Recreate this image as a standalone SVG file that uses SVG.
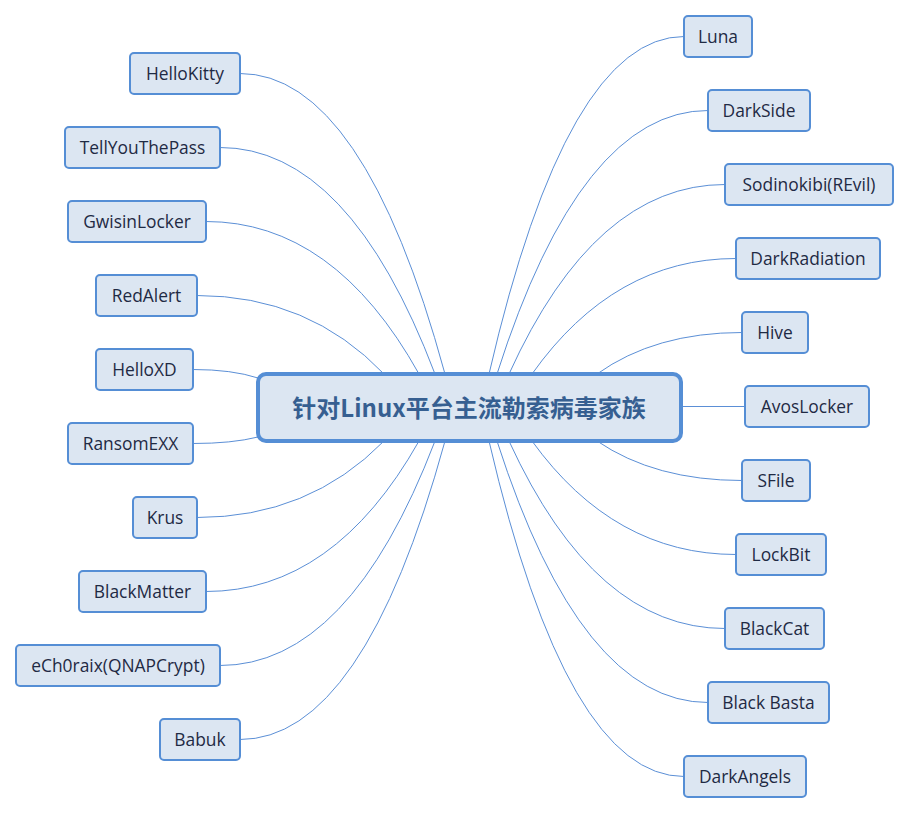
<svg xmlns="http://www.w3.org/2000/svg" width="910" height="814" viewBox="0 0 910 814">
<style>
.n rect{fill:#dce6f2;stroke:#558ed5;stroke-width:2}
.n text{font-family:"Open Sans","Noto Sans",sans-serif;font-size:17.4px;fill:#1f2a44;text-anchor:middle}
#links path{fill:none;stroke:#5b8fd6;stroke-width:1}
#root rect{fill:#dce6f2;stroke:#558ed5;stroke-width:4}
#root text{font-family:"Noto Sans CJK SC","Noto Sans",sans-serif;font-size:24px;font-weight:bold;fill:#365f91;text-anchor:middle}
</style>
<rect width="910" height="814" fill="#ffffff"/>
<g id="links">
<path d="M240,73.5 Q363,73.5 445,374"/>
<path d="M220,147.5 Q349,147.5 435,374"/>
<path d="M206,221.5 Q334,221.5 419,374"/>
<path d="M197,295.5 Q309,295.5 384,374"/>
<path d="M193,369.5 Q232,369.5 258,378"/>
<path d="M193,443.5 Q232,443.5 258,437"/>
<path d="M197,517.5 Q309,517.5 384,441"/>
<path d="M206,591.5 Q334,591.5 419,441"/>
<path d="M220,665.5 Q349,665.5 435,441"/>
<path d="M240,739.5 Q363,739.5 445,441"/>
<path d="M684,36.5 Q567,36.5 489,374"/>
<path d="M708,110.5 Q581,110.5 497,374"/>
<path d="M725,184.5 Q595,184.5 509,374"/>
<path d="M736,258.5 Q614,258.5 532,374"/>
<path d="M742,332.5 Q655,332.5 597,374"/>
<path d="M745,406.5 L681,406.5"/>
<path d="M742,480.5 Q655,480.5 597,441"/>
<path d="M736,554.5 Q614,554.5 532,441"/>
<path d="M725,628.5 Q595,628.5 509,441"/>
<path d="M708,702.5 Q581,702.5 497,441"/>
<path d="M684,776.5 Q567,776.5 489,441"/>
</g>
<g id="root">
<rect x="258" y="374" width="423" height="67" rx="8"/>
<text x="469" y="417">针对Linux平台主流勒索病毒家族</text>
</g>
<g id="n-hellokitty" class="n"><rect x="130" y="53" width="110" height="41" rx="4"/><text x="185" y="80">HelloKitty</text></g>
<g id="n-tellyouthepass" class="n"><rect x="65" y="127" width="155" height="41" rx="4"/><text x="142.5" y="154">TellYouThePass</text></g>
<g id="n-gwisinlocker" class="n"><rect x="68" y="201" width="138" height="41" rx="4"/><text x="137" y="228">GwisinLocker</text></g>
<g id="n-redalert" class="n"><rect x="96" y="275" width="101" height="41" rx="4"/><text x="146.5" y="302">RedAlert</text></g>
<g id="n-helloxd" class="n"><rect x="96" y="349" width="97" height="41" rx="4"/><text x="144.5" y="376">HelloXD</text></g>
<g id="n-ransomexx" class="n"><rect x="68" y="423" width="125" height="41" rx="4"/><text x="130.5" y="450">RansomEXX</text></g>
<g id="n-krus" class="n"><rect x="133" y="497" width="64" height="41" rx="4"/><text x="165" y="524">Krus</text></g>
<g id="n-blackmatter" class="n"><rect x="79" y="571" width="127" height="41" rx="4"/><text x="142.5" y="598">BlackMatter</text></g>
<g id="n-ech0raix" class="n"><rect x="16" y="645" width="204" height="41" rx="4"/><text x="118" y="672">eCh0raix(QNAPCrypt)</text></g>
<g id="n-babuk" class="n"><rect x="160" y="719" width="80" height="41" rx="4"/><text x="200" y="746">Babuk</text></g>
<g id="n-luna" class="n"><rect x="684" y="16" width="68" height="41" rx="4"/><text x="718" y="43">Luna</text></g>
<g id="n-darkside" class="n"><rect x="708" y="90" width="102" height="41" rx="4"/><text x="759" y="117">DarkSide</text></g>
<g id="n-sodinokibi" class="n"><rect x="725" y="164" width="168" height="41" rx="4"/><text x="809" y="191">Sodinokibi(REvil)</text></g>
<g id="n-darkradiation" class="n"><rect x="736" y="238" width="144" height="41" rx="4"/><text x="808" y="265">DarkRadiation</text></g>
<g id="n-hive" class="n"><rect x="742" y="312" width="66" height="41" rx="4"/><text x="775" y="339">Hive</text></g>
<g id="n-avoslocker" class="n"><rect x="745" y="386" width="124" height="41" rx="4"/><text x="807" y="413">AvosLocker</text></g>
<g id="n-sfile" class="n"><rect x="742" y="460" width="68" height="41" rx="4"/><text x="776" y="487">SFile</text></g>
<g id="n-lockbit" class="n"><rect x="736" y="534" width="90" height="41" rx="4"/><text x="781" y="561">LockBit</text></g>
<g id="n-blackcat" class="n"><rect x="725" y="608" width="99" height="41" rx="4"/><text x="774.5" y="635">BlackCat</text></g>
<g id="n-blackbasta" class="n"><rect x="708" y="682" width="121" height="41" rx="4"/><text x="768.5" y="709">Black Basta</text></g>
<g id="n-darkangels" class="n"><rect x="684" y="756" width="122" height="41" rx="4"/><text x="745" y="783">DarkAngels</text></g>
</svg>
